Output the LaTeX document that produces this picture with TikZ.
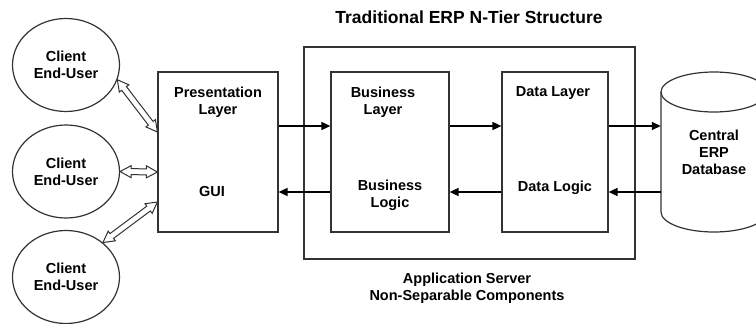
\documentclass[tikz,border=0pt]{standalone}
\usepackage{fontspec}
\setmainfont{Liberation Sans}
\usetikzlibrary{arrows.meta,calc,shapes.geometric}
\newcommand\hollowarrow[2]{%
  \draw[hollowarr] (#1)
    -- ($(#1)!11pt!(#2)!6pt!90:(#2)$)
    -- ($(#1)!11pt!(#2)!3pt!90:(#2)$)
    -- ($(#2)!11pt!(#1)!3pt!-90:(#1)$)
    -- ($(#2)!11pt!(#1)!6pt!-90:(#1)$)
    -- (#2)
    -- ($(#2)!11pt!(#1)!6pt!90:(#1)$)
    -- ($(#2)!11pt!(#1)!3pt!90:(#1)$)
    -- ($(#1)!11pt!(#2)!3pt!-90:(#2)$)
    -- ($(#1)!11pt!(#2)!6pt!-90:(#2)$)
    -- cycle;}
\begin{document}
\begin{tikzpicture}[x=1pt,y=-1pt,
  font=\bfseries\fontsize{14.5}{17}\selectfont,
  box/.style={draw=black!80, line width=1.2pt, inner sep=0pt},
  client/.style={ellipse, draw=black!80, line width=1.2pt, inner sep=0pt,
    minimum width=107pt, minimum height=93pt, align=center},
  txt/.style={align=center, inner sep=0pt},
  flow/.style={line width=1.6pt, -{Triangle[length=9pt,width=8pt]}},
  hollowarr/.style={draw=black!80, line width=1pt, fill=white, line join=miter}]
\useasboundingbox (0,0) rectangle (756,324);

% title
\node[txt, font=\bfseries\fontsize{17.5}{20}\selectfont] (title) at (469,17) {Traditional ERP N-Tier Structure};

% clients
\node[client] (c1) at (66,65) {Client\\End-User};
\node[client] (c2) at (66,171.5) {Client\\End-User};
\node[client] (c3) at (66,277) {Client\\End-User};

% application server box
\node[box, minimum width=331pt, minimum height=212pt] (app) at (469.5,153) {};
\node[txt] (applbl) at (467,288) {Application Server\\Non-Separable Components};

% presentation layer
\node[box, minimum width=120pt, minimum height=160pt] (p) at (218,152) {};
\node[txt] (plbl) at (218,102) {Presentation\\Layer};
\node[txt] (gui) at (212,192) {GUI};

% business layer
\node[box, minimum width=118pt, minimum height=160pt] (b) at (390,152) {};
\node[txt] (blbl) at (383,102) {Business\\Layer};
\node[txt] (blog) at (390,195) {Business\\Logic};

% data layer
\node[box, minimum width=106pt, minimum height=160pt] (d) at (555,152) {};
\node[txt] (dlbl) at (553,93) {Data Layer};
\node[txt] (dlog) at (555,188) {Data Logic};

% database cylinder
\draw[draw=black!80, line width=1.2pt] (714,92) ellipse [x radius=53pt, y radius=20pt];
\draw[draw=black!80, line width=1.2pt] (661,92) -- (661,212)
  arc[start angle=180, end angle=360, x radius=53pt, y radius=20pt] -- (767,92);
\node[txt, minimum width=106pt, minimum height=160pt] (db) at (714,152) {Central\\ERP\\Database};

% flow arrows
\draw[flow] ([yshift=26pt]p.east) -- ([yshift=26pt]b.west);
\draw[flow] ([yshift=26pt]b.east) -- ([yshift=26pt]d.west);
\draw[flow] ([yshift=26pt]d.east) -- ([yshift=26pt]db.west);
\draw[flow] ([yshift=-40pt]db.west) -- ([yshift=-40pt]d.east);
\draw[flow] ([yshift=-40pt]d.west) -- ([yshift=-40pt]b.east);
\draw[flow] ([yshift=-40pt]b.west) -- ([yshift=-40pt]p.east);

% client connections
\coordinate (a1s) at (c1.-16);
\coordinate (a1e) at ([yshift=20pt]p.west);
\coordinate (a2s) at (c2.east);
\coordinate (a2e) at ([yshift=-20pt]p.west);
\coordinate (a3s) at (c3.43);
\coordinate (a3e) at ([yshift=-50pt]p.west);
\hollowarrow{a1s}{a1e}
\hollowarrow{a2s}{a2e}
\hollowarrow{a3s}{a3e}
\end{tikzpicture}
\end{document}
